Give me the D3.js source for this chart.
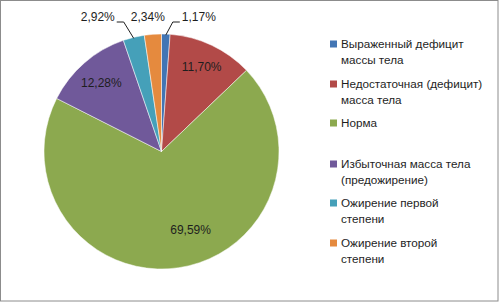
<!DOCTYPE html>
<html>
<head>
<meta charset="utf-8">
<script src="https://cdn.jsdelivr.net/npm/d3@7"></script>
<style>
  body { margin: 0; background: #fff; }
  text { font-family: "Liberation Sans", Arial, sans-serif; }
</style>
</head>
<body>
<div id="chart"></div>
<script>
// data
const categories = [
    "Выраженный дефицит массы тела",
    "Недостаточная (дефицит) масса тела",
    "Норма",
    "Избыточная масса тела (предожирение)",
    "Ожирение первой степени",
    "Ожирение второй степени"
];
const values = [1.17, 11.70, 69.59, 12.28, 2.92, 2.34];
const legendLines = [
    ["Выраженный дефицит", "массы тела"],
    ["Недостаточная (дефицит)", "масса тела"],
    ["Норма"],
    ["Избыточная масса тела", "(предожирение)"],
    ["Ожирение первой", "степени"],
    ["Ожирение второй", "степени"]
];
const colors = ["#4275B4", "#B24A48", "#8CA94F", "#70599A", "#45A0B9", "#E58A3E"];

const width = 499, height = 304;
const cx = 161.5, cy = 151.5, radius = 117.5;

let svg = d3.select("#chart").append("svg")
    .attr("width", width)
    .attr("height", height);

// chart frame
svg.append("rect")
    .attr("x", 0.5).attr("y", 0.5)
    .attr("width", 497.5).attr("height", 300.5)
    .attr("fill", "#fff")
    .attr("stroke", "#8c8c8c")
    .attr("stroke-width", 1);

let color = d3.scaleOrdinal().domain(categories).range(colors);

let pie = d3.pie().sort(null).value(d => d.value);
let arcs = pie(categories.map((c, i) => ({name: c, value: values[i]})));

let arc = d3.arc().innerRadius(0).outerRadius(radius);

let g = svg.append("g").attr("transform", "translate(" + cx + "," + cy + ")");

g.selectAll("path")
    .data(arcs)
    .enter().append("path")
    .attr("d", arc)
    .attr("fill", d => color(d.data.name))
    .attr("stroke", "#fff")
    .attr("stroke-width", 0.5);

// labels inside big slices, outside above the pie for the small ones
let fmt = v => v.toFixed(2).replace(".", ",") + "%";
let insideRatio = {1: 0.8, 2: 0.71, 3: 0.78};
let insideTurn = {2: -0.21};                 // the big slice label sits off its middle
let outsideShift = {4: -36, 5: -5, 0: 33};   // horizontal shift of outside labels
let labelY = -cy + 17;

arcs.forEach((d, i) => {
    let mid = (d.startAngle + d.endAngle) / 2;
    if (d.data.value > 5) {
        let a = mid + (insideTurn[i] || 0);
        let rr = radius * insideRatio[i];
        g.append("text")
            .attr("x", Math.sin(a) * rr).attr("y", -Math.cos(a) * rr)
            .attr("dy", "0.35em")
            .attr("text-anchor", "middle")
            .attr("font-size", 12)
            .attr("fill", "#1e1e1e")
            .text(fmt(d.data.value));
    } else {
        let ex = Math.sin(mid) * radius, ey = -Math.cos(mid) * radius;
        let lx = ex + outsideShift[i];
        let t = g.append("text")
            .attr("x", lx).attr("y", labelY)
            .attr("dy", "0.35em")
            .attr("text-anchor", "middle")
            .attr("font-size", 12)
            .attr("fill", "#1e1e1e")
            .text(fmt(d.data.value));
        if (Math.abs(outsideShift[i]) > 15) {
            let w = t.node().getComputedTextLength();
            let side = outsideShift[i] < 0 ? 1 : -1;
            let x0 = lx + side * (w / 2 + 2);
            let x1 = x0 + side * 7;
            g.append("polyline")
                .attr("points", [[x0, labelY + 5], [x1, labelY + 5], [ex, ey + 1]].map(p => p.join(",")).join(" "))
                .attr("fill", "none")
                .attr("stroke", "#1e1e1e")
                .attr("stroke-width", 1);
        }
    }
});

// legend
let legendTops = [44, 84, 123, 164, 203, 243];
let legend = svg.append("g");
categories.forEach((c, i) => {
    legend.append("rect")
        .attr("x", 330).attr("y", legendTops[i] - 3.5)
        .attr("width", 7).attr("height", 7)
        .attr("fill", color(c));
    legendLines[i].forEach((line, j) => {
        legend.append("text")
            .attr("x", 341).attr("y", legendTops[i] + j * 16)
            .attr("dy", "0.35em")
            .attr("font-size", 11.7)
            .attr("fill", "#1e1e1e")
            .text(line);
    });
});
</script>
</body>
</html>
